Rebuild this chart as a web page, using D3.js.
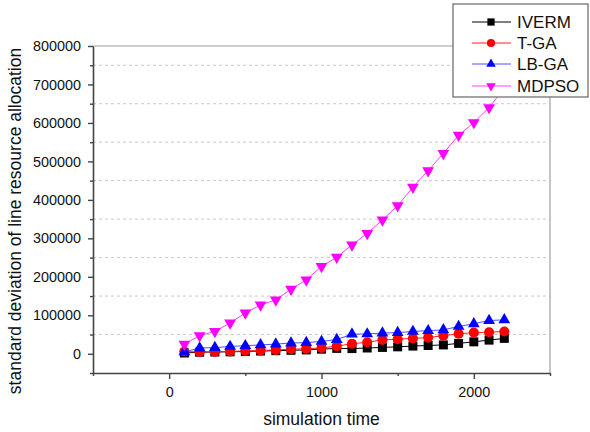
<!doctype html>
<html>
<head>
<meta charset="utf-8">
<title>standard deviation chart</title>
<style>
* {padding:0;margin:0}
body {background:#fff}
svg {font-family: Arial, "Liberation Sans", sans-serif; display:block}
</style>
</head>
<body>
<div id="chart"></div>
<script src="https://d3js.org/d3.v7.min.js"></script>
<script>
// simulation time steps
const times = [100,200,300,400,500,600,700,800,900,1000,1100,1200,1300,1400,1500,1600,1700,1800,1900,2000,2100,2200];

const iverm  = [2000,4000,4500,5000,6000,7000,8000,9000,10000,12000,14000,13500,15000,16500,18000,20000,21500,23000,27000,31000,35500,40000];
const tga    = [6000,4500,5500,6000,7500,8500,10000,12000,13000,15000,20000,26000,30000,36000,38000,40000,42000,47000,52000,55000,56000,58000];
const lbga   = [5000,15000,16000,19000,21000,23000,25000,28000,29000,32000,37000,51000,51500,54000,55000,58000,60000,62000,71000,78000,86500,88000];
const mdpso  = [25000,47000,58000,80000,106000,127000,140000,168000,192000,227000,251000,283000,313000,348000,385000,433000,476000,521000,568000,601000,640000,690000];

const seriesNames = ["IVERM","T-GA","LB-GA","MDPSO"];
const xTicks = [0,1000,2000];
const yTicks = [0,100000,200000,300000,400000,500000,600000,700000,800000];

const W = 590, H = 432;
const margin = {top: 46, right: 40, bottom: 59, left: 93};
const width = W - margin.left - margin.right;
const height = H - margin.top - margin.bottom;

const x = d3.scaleLinear().domain([-500, 2500]).range([0, width]);
const y = d3.scaleLinear().domain([-50000, 800000]).range([height, 0]);

const svg = d3.select("#chart").append("svg")
	.attr("width", W)
	.attr("height", H);

const g = svg.append("g")
	.attr("transform", "translate(" + margin.left + "," + margin.top + ")");

// dashed grid on the half-steps
const gridVals = d3.range(50000, 800000, 100000);
g.selectAll(".grid").data(gridVals).enter()
	.append("line")
	.attr("x1", 0).attr("x2", width)
	.attr("y1", d => y(d)).attr("y2", d => y(d))
	.attr("stroke", "#c8c8c8")
	.attr("stroke-width", 1)
	.attr("stroke-dasharray", "3,3");

// frame top/right
g.append("line").attr("x1", 0).attr("x2", width).attr("y1", 0).attr("y2", 0)
	.attr("stroke", "#a0a0a0").attr("stroke-width", 1.2);
g.append("line").attr("x1", width).attr("x2", width).attr("y1", 0).attr("y2", height)
	.attr("stroke", "#a0a0a0").attr("stroke-width", 1.2);

// x axis
const xAxis = g.append("g").attr("transform", "translate(0," + height + ")");
xAxis.call(d3.axisBottom(x).tickValues(xTicks).tickSize(6).tickSizeOuter(0).tickPadding(8).tickFormat(d3.format("d")));
const xMinor = g.append("g").attr("transform", "translate(0," + height + ")");
xMinor.call(d3.axisBottom(x).tickValues([-500,500,1500,2500]).tickSize(3).tickFormat("").tickSizeOuter(0));
xMinor.select(".domain").remove();

// y axis
const yAxis = g.append("g");
yAxis.call(d3.axisLeft(y).tickValues(yTicks).tickSize(5).tickSizeOuter(0).tickPadding(7).tickFormat(d3.format("d")));
const yMinor = g.append("g");
yMinor.call(d3.axisLeft(y).tickValues(d3.range(-50000, 800000, 100000)).tickSize(3).tickFormat("").tickSizeOuter(0));
yMinor.select(".domain").remove();

svg.selectAll(".domain").attr("stroke", "#444").attr("stroke-width", 1.6);
svg.selectAll(".tick line").attr("stroke", "#444").attr("stroke-width", 1.4);
svg.selectAll(".tick text").attr("fill", "#111").style("font-size", "14.4px").style("font-family", "Arial, 'Liberation Sans', sans-serif");

// titles
svg.append("text")
	.attr("x", margin.left + width / 2)
	.attr("y", 425)
	.attr("text-anchor", "middle")
	.style("font-size", "17.5px")
	.attr("fill", "#111")
	.text("simulation time");

svg.append("text")
	.attr("transform", "translate(21,221) rotate(-90)")
	.attr("text-anchor", "middle")
	.style("font-size", "17.5px")
	.attr("fill", "#111")
	.text("standard deviation of line resource allocation");

// series
const series = [
	{name: seriesNames[0], values: iverm, color: "#000000", line: "#000000", sym: d3.symbolSquare, size: 81, rot: 0},
	{name: seriesNames[1], values: tga, color: "#ff0000", line: "#ff2020", sym: d3.symbolCircle, size: 80, rot: 0},
	{name: seriesNames[2], values: lbga, color: "#0000ff", line: "#5050ff", sym: d3.symbolTriangle, size: 60, rot: 0},
	{name: seriesNames[3], values: mdpso, color: "#ff00ff", line: "#ff40ff", sym: d3.symbolTriangle, size: 60, rot: 180}
];

const line = d3.line()
	.x((d, i) => x(times[i]))
	.y(d => y(d));

series.forEach(function(s) {
	g.append("path")
		.datum(s.values)
		.attr("fill", "none")
		.attr("stroke", s.line)
		.attr("stroke-width", 1)
		.attr("d", line);
	g.selectAll(null).data(s.values).enter()
		.append("path")
		.attr("d", d3.symbol().type(s.sym).size(s.size))
		.attr("transform", (d, i) => "translate(" + x(times[i]) + "," + y(d) + ") rotate(" + s.rot + ")")
		.attr("fill", s.color);
});

// legend
const leg = svg.append("g").attr("transform", "translate(453,4)");
leg.append("rect")
	.attr("x", 0).attr("y", 0)
	.attr("width", 135).attr("height", 93)
	.attr("fill", "#fff")
	.attr("stroke", "#666")
	.attr("stroke-width", 1.2);
const rowY = [18, 39, 60, 82];
series.forEach(function(s, i) {
	const r = leg.append("g").attr("transform", "translate(0," + rowY[i] + ")");
	r.append("line").attr("x1", 19).attr("x2", 58).attr("y1", 0).attr("y2", 0)
		.attr("stroke", s.line).attr("stroke-width", 1);
	r.append("path")
		.attr("d", d3.symbol().type(s.sym).size(s.size * 0.65))
		.attr("transform", "translate(38,0) rotate(" + s.rot + ")")
		.attr("fill", s.color);
	r.append("text")
		.attr("x", 64).attr("y", 0)
		.attr("dy", "0.35em")
		.style("font-size", "17px")
		.attr("fill", "#111")
		.text(s.name);
});
</script>
</body>
</html>
